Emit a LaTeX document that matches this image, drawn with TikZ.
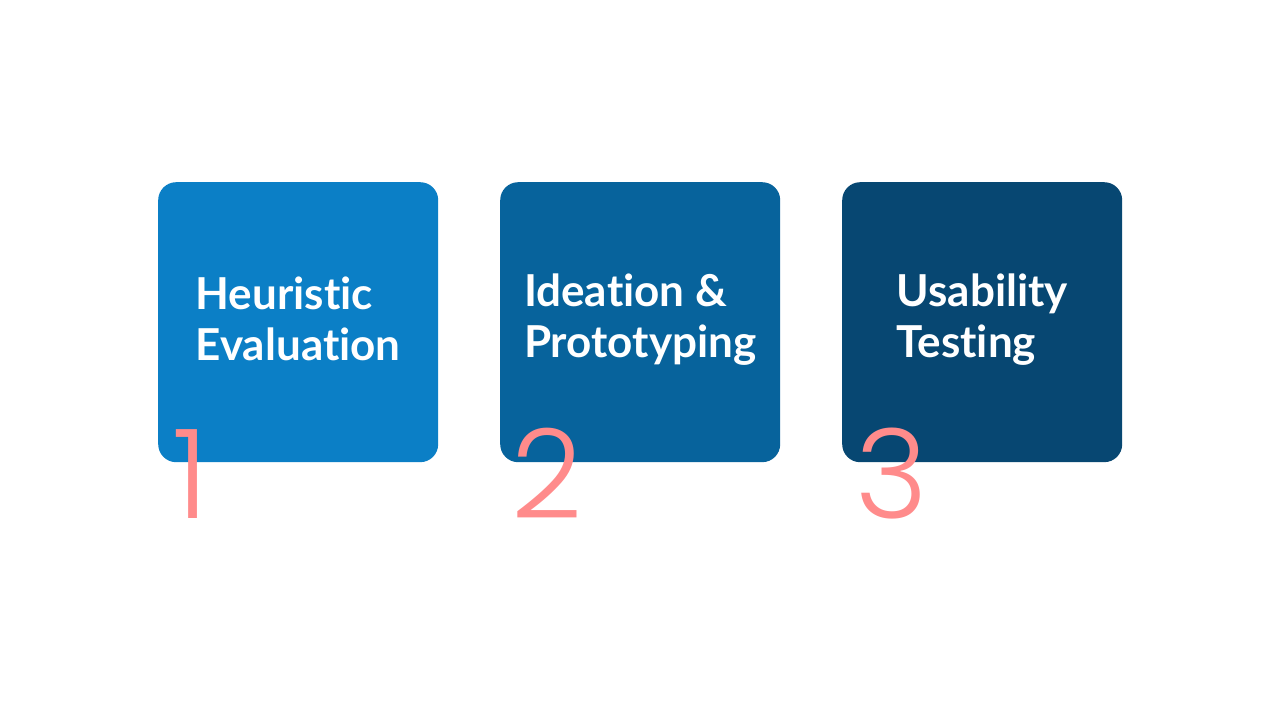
\documentclass[tikz,border=0pt]{standalone}
\usepackage{fontspec}
\setmainfont{Lato}[UprightFont=* Bold, Ligatures={NoCommon}]
\newfontfamily\numfont{Poppins}[UprightFont=* Light]
\definecolor{boxa}{HTML}{0B7FC6}
\definecolor{boxb}{HTML}{07639C}
\definecolor{boxc}{HTML}{074772}
\definecolor{numcol}{HTML}{FF8B8B}
\begin{document}
\begin{tikzpicture}[x=1pt,y=-1pt,
  card/.style={fill=#1, rounded corners=18pt, minimum width=280pt, minimum height=280pt, inner sep=0pt, anchor=north west},
  cardtext/.style={text=white, align=left, font=\fontsize{44}{51}\selectfont, inner sep=0pt},
  stepnum/.style={text=numcol, font=\numfont\fontsize{124}{124}\selectfont, anchor=base west, inner sep=0pt}]
  \useasboundingbox (0,0) rectangle (1280,720);
  \node[card=boxa] (c1) at (158,182) {};
  \node[card=boxb] (c2) at (500,182) {};
  \node[card=boxc] (c3) at (842,182) {};
  \node[cardtext] (t1) at ([yshift=3pt]c1.center) {Heuristic\\Evaluation};
  \node[cardtext] (t2) at ([yshift=3pt]c2.center) {Ideation \&\\Prototyping};
  \node[cardtext] (t3) at ([yshift=3pt]c3.center) {Usability\\Testing};
  \node[stepnum] (n1) at (172,518) {1};
  \node[stepnum] (n2) at (511,518) {2};
  \node[stepnum] (n3) at (855,518) {3};
\end{tikzpicture}
\end{document}
